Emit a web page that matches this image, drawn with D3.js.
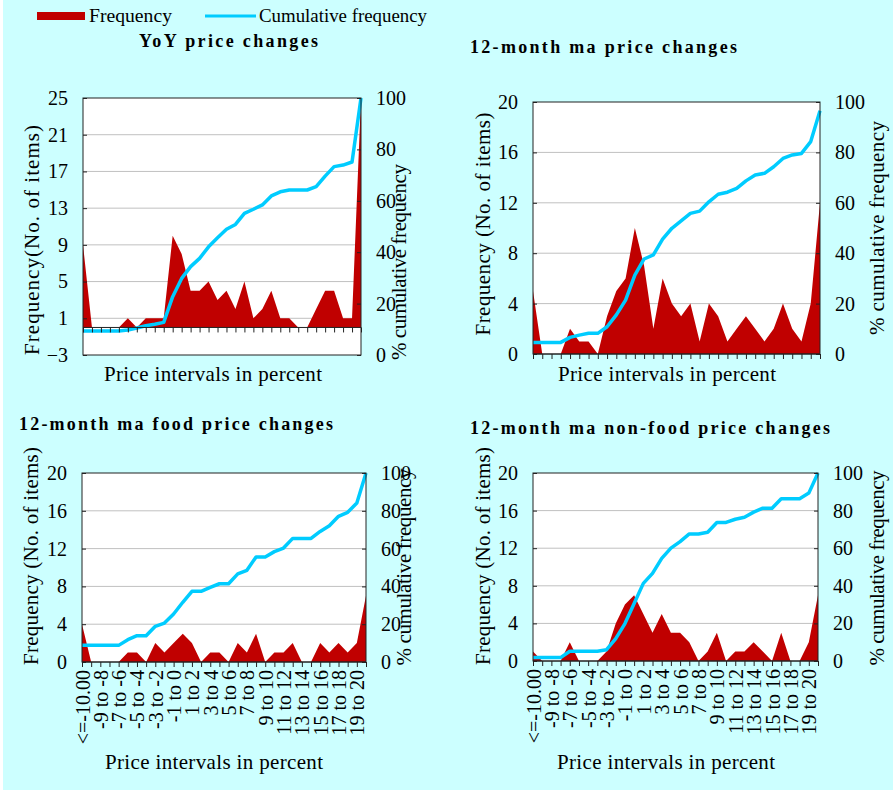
<!DOCTYPE html>
<html lang="en">
<head>
<meta charset="UTF-8">
<title>Price change distributions</title>
<style>
    body { margin: 0; background: #fff; }
    svg text { font-family: "Liberation Serif", "Times New Roman", serif; fill: #000; }
    .tick-lab { font-size: 20px; }
    .title { font-size: 18px; font-weight: bold; }
    .axis-title { font-size: 21px; }
</style>
</head>
<body>
<svg width="896" height="793"></svg>
<script src="https://cdn.jsdelivr.net/npm/d3@7"></script>
<script>

// price interval categories (x axis)
var categories = ["<=-10.00", "-10 to -9", "-9 to -8", "-8 to -7", "-7 to -6", "-6 to -5",
    "-5 to -4", "-4 to -3", "-3 to -2", "-2 to -1", "-1 to 0", "0 to 1", "1 to 2", "2 to 3",
    "3 to 4", "4 to 5", "5 to 6", "6 to 7", "7 to 8", "8 to 9", "9 to 10", "10 to 11",
    "11 to 12", "12 to 13", "13 to 14", "14 to 15", "15 to 16", "16 to 17", "17 to 18",
    "18 to 19", "19 to 20", ">20.00"];

// frequencies (no. of items)
var freqYoy     = [9,0,0,0,0,1,0,1,1,1,10,8,4,4,5,3,4,2,5,1,2,4,1,1,0,0,2,4,4,1,1,25];
var freqMa      = [5,0,0,0,2,1,1,0,3,5,6,10,7,2,6,4,3,4,1,4,3,1,2,3,2,1,2,4,2,1,4,12];
var freqFood    = [4,0,0,0,0,1,1,0,2,1,2,3,2,0,1,1,0,2,1,3,0,1,1,2,0,0,2,1,2,1,2,7];
var freqNonFood = [1,0,0,0,2,0,0,0,1,4,6,7,5,3,5,3,3,2,0,1,3,0,1,1,2,1,0,3,0,0,2,7];

// cumulative frequency (%)
var cumYoy     = [9.3,9.3,9.3,9.3,9.3,9.7,10.5,11.4,12,12.7,22.7,29.8,34.4,37.6,42.1,45.6,48.9,50.8,
    55.1,56.7,58.4,61.9,63.5,64.2,64.2,64.2,65.5,69.6,73.3,73.9,75.1,100];
var cumMa      = [4.6,4.6,4.6,4.6,6.6,7.5,8.2,8.2,10.8,15.5,21.4,31.3,37.7,39.3,45.6,49.9,52.8,
    55.8,56.7,60.4,63.4,64.2,65.7,68.7,71,71.7,74.3,77.6,79,79.6,84.3,96.5];
var cumFood    = [8.8,8.8,8.8,8.8,8.8,11.8,13.9,13.9,18.9,20.6,25.4,31.6,37.4,37.4,39.5,41.4,41.4,
    46.6,48.5,55.6,55.6,58.4,60.3,65.4,65.4,65.4,69.1,72.1,77.1,79.2,84.1,100];
var cumNonFood = [1.8,1.8,1.8,1.8,5.2,5.2,5.2,5.2,6,11.9,19.9,30.6,41.3,46.6,54.6,60,63.5,67.6,
    67.6,68.5,73.7,73.7,75.4,76.5,79.2,81.3,81.3,86.3,86.3,86.3,89.3,100];

// axis tick values
var ticksYoy = [-3, 1, 5, 9, 13, 17, 21, 25];
var ticksMa = [0, 4, 8, 12, 16, 20];
var ticksCum = [0, 20, 40, 60, 80, 100];

var svg = d3.select("svg");
var RED = "#c00000", CYAN = "#00ccff";

svg.append("rect").attr("x", 3).attr("y", 0).attr("width", 890).attr("height", 790)
    .attr("fill", "#ccffff");

// legend
svg.append("rect").attr("x", 37).attr("y", 12).attr("width", 48).attr("height", 8).attr("fill", RED);
svg.append("text").attr("x", 89).attr("y", 22).style("font-size", "19px")
    .attr("textLength", 83).attr("lengthAdjust", "spacingAndGlyphs").text("Frequency");
svg.append("line").attr("x1", 205).attr("x2", 256).attr("y1", 16).attr("y2", 16)
    .attr("stroke", CYAN).attr("stroke-width", 3);
svg.append("text").attr("x", 259).attr("y", 22).style("font-size", "19px")
    .attr("textLength", 168).attr("lengthAdjust", "spacingAndGlyphs").text("Cumulative frequency");

var clipId = 0;

function drawPanel(p) {
    var g = svg.append("g");
    var x = d3.scalePoint().domain(categories).range([p.x0, p.x1]);
    var yL = d3.scaleLinear().domain([p.ticks[0], p.ticks[p.ticks.length - 1]]).range([p.y1, p.y0]);
    var yR = d3.scaleLinear().domain([0, 100]).range([p.y1, p.y0]);

    // plot area
    g.append("rect").attr("x", p.x0).attr("y", p.y0).attr("width", p.x1 - p.x0).attr("height", p.y1 - p.y0)
        .attr("fill", "#fff");

    // gridlines
    g.selectAll(".grid").data(p.ticks.slice(1, -1)).enter().append("line")
        .attr("x1", p.x0).attr("x2", p.x1)
        .attr("y1", function(d) { return yL(d); }).attr("y2", function(d) { return yL(d); })
        .attr("stroke", "#c0c0c0").attr("stroke-width", 1);

    var id = "clip" + (clipId++);
    g.append("clipPath").attr("id", id).append("rect")
        .attr("x", p.x0).attr("y", p.y0).attr("width", p.x1 - p.x0).attr("height", p.y1 - p.y0);

    var area = d3.area()
        .x(function(d, i) { return x(categories[i]); })
        .y0(yL(0))
        .y1(function(d) { return yL(d); });
    g.append("path").datum(p.freq).attr("d", area).attr("fill", RED).attr("clip-path", "url(#" + id + ")");

    var line = d3.line()
        .x(function(d, i) { return x(categories[i]); })
        .y(function(d) { return yR(d); });
    g.append("path").datum(p.cum).attr("d", line).attr("fill", "none")
        .attr("stroke", CYAN).attr("stroke-width", 3.5).attr("stroke-linejoin", "round");

    // border
    g.append("rect").attr("x", p.x0).attr("y", p.y0).attr("width", p.x1 - p.x0).attr("height", p.y1 - p.y0)
        .attr("fill", "none").attr("stroke", "#222").attr("stroke-width", 1);

    // left axis
    var left = d3.axisLeft(yL).tickValues(p.ticks).tickSize(-4).tickPadding(15);
    var la = g.append("g").attr("transform", "translate(" + p.x0 + ",0)").call(left);
    // right axis
    var right = d3.axisRight(yR).tickValues(ticksCum).tickSize(-4).tickPadding(15);
    var ra = g.append("g").attr("transform", "translate(" + p.x1 + ",0)").call(right);
    [la, ra].forEach(function(a) {
        a.select(".domain").remove();
        a.selectAll(".tick line").attr("stroke", "#222");
        a.selectAll(".tick text").attr("class", "tick-lab").attr("font-family", null).attr("font-size", null);
    });

    // category axis at zero
    var bottom = d3.axisBottom(x).tickSize(5).tickFormat(function(d, i) { return p.labels && i % 2 === 0 ? d : ""; });
    var xa = g.append("g").attr("transform", "translate(0," + yL(0) + ")").call(bottom);
    xa.select(".domain").attr("d", "M" + p.x0 + ",0H" + p.x1).attr("stroke", "#222");
    xa.selectAll(".tick line").attr("stroke", "#222");
    xa.selectAll(".tick text").attr("class", "tick-lab").attr("font-family", null).attr("font-size", null)
        .attr("transform", "rotate(-90)").attr("text-anchor", "end")
        .attr("x", -8).attr("y", 0).attr("dy", "0.35em");

    // titles
    g.append("text").attr("class", "title").attr("x", p.tx).attr("y", p.ty)
        .attr("textLength", p.tw).attr("lengthAdjust", "spacing").text(p.title);
    g.append("text").attr("class", "axis-title").attr("x", p.xtx).attr("y", p.xty)
        .attr("textLength", 218).attr("lengthAdjust", "spacing").text("Price intervals in percent");
    g.append("text").attr("class", "axis-title")
        .attr("transform", "translate(" + p.lx + "," + p.ly + ") rotate(-90)")
        .attr("text-anchor", "middle").attr("textLength", p.ll).attr("lengthAdjust", "spacing")
        .text(p.leftTitle);
    g.append("text").attr("class", "axis-title")
        .attr("transform", "translate(" + p.rx + "," + p.ry + ") rotate(-90)")
        .attr("text-anchor", "middle").attr("textLength", p.rl).attr("lengthAdjust", "spacing")
        .text("% cumulative frequency");
}

drawPanel({ x0: 83, x1: 361, y0: 98, y1: 355, ticks: ticksYoy, freq: freqYoy, cum: cumYoy, labels: false,
    title: "YoY price changes", tx: 139, ty: 47, tw: 179, xtx: 104, xty: 381,
    leftTitle: "Frequency(No. of items)", lx: 39, ly: 240, ll: 230, rx: 406, ry: 262, rl: 196 });
drawPanel({ x0: 533, x1: 820, y0: 102, y1: 354, ticks: ticksMa, freq: freqMa, cum: cumMa, labels: false,
    title: "12-month ma price changes", tx: 470, ty: 53, tw: 267, xtx: 558, xty: 381,
    leftTitle: "Frequency (No. of items)", lx: 490, ly: 224, ll: 223, rx: 884, ry: 228, rl: 214 });
drawPanel({ x0: 82, x1: 366, y0: 473, y1: 662, ticks: ticksMa, freq: freqFood, cum: cumFood, labels: true,
    title: "12-month ma food price changes", tx: 19, ty: 430, tw: 314, xtx: 105, xty: 769,
    leftTitle: "Frequency (No. of items)", lx: 38, ly: 556, ll: 218, rx: 411, ry: 567, rl: 197 });
drawPanel({ x0: 533, x1: 818, y0: 473, y1: 661, ticks: ticksMa, freq: freqNonFood, cum: cumNonFood, labels: true,
    title: "12-month ma non-food price changes", tx: 470, ty: 434, tw: 360, xtx: 557, xty: 769,
    leftTitle: "Frequency (No. of items)", lx: 490, ly: 556, ll: 218, rx: 884, ry: 568, rl: 195 });

</script>
</body>
</html>
